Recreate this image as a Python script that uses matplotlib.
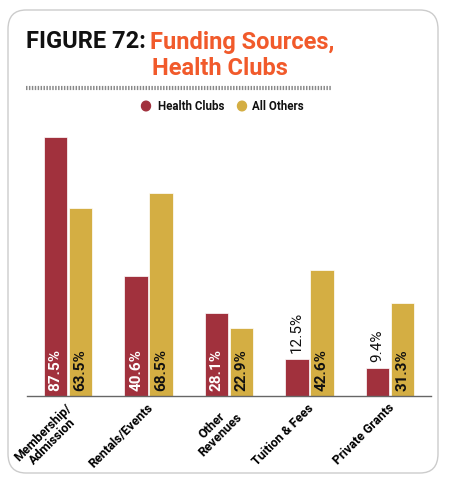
import numpy as np
from matplotlib import pyplot as plt
from matplotlib.patches import FancyBboxPatch, Circle

categories = ['Membership/\nAdmission', 'Rentals/Events', 'Other\nRevenues', 'Tuition & Fees', 'Private Grants']
health_clubs = [87.5, 40.6, 28.1, 12.5, 9.4]
all_others = [63.5, 68.5, 22.9, 42.6, 31.3]

red = '#A1313D'
gold = '#D4AE43'
orange = '#F15A2B'


def main():
    fig = plt.figure(figsize=(4.5, 4.82), dpi=100)

    # rounded frame
    box = FancyBboxPatch((8 / 450, 9 / 482), 430 / 450, 463 / 482,
                         boxstyle='round,pad=0,rounding_size=0.04',
                         transform=fig.transFigure, facecolor='white',
                         edgecolor='#cccccc', linewidth=1.0, zorder=-10)
    fig.patches.append(box)

    fig.text(26 / 450, 1 - 42 / 482, 'FIGURE 72:', fontsize=17, fontweight='bold',
             family='Roboto', color='#111111', va='center', ha='left')
    fig.text(150 / 450, 1 - 42 / 482, 'Funding Sources,', fontsize=17, fontweight='bold',
             family='Roboto', color=orange, va='center', ha='left')
    fig.text(152 / 450, 1 - 69 / 482, 'Health Clubs', fontsize=17, fontweight='bold',
             family='Roboto', color=orange, va='center', ha='left')

    # dotted rule under title
    fig.add_artist(plt.Line2D([26 / 450, 331 / 450], [1 - 88 / 482, 1 - 88 / 482],
                              transform=fig.transFigure, color='#888888',
                              linewidth=3, linestyle=(0, (0.35, 0.35))))

    # legend
    fig.patches.append(Circle((146 / 450, 1 - 106 / 482), 4.5 / 450, transform=fig.transFigure,
                              color=red))
    fig.text(158 / 450, 1 - 106 / 482, 'Health Clubs', fontsize=8.3, fontweight='bold',
             family='Roboto', va='center', ha='left', color='#111111')
    fig.patches.append(Circle((242 / 450, 1 - 106 / 482), 4.5 / 450, transform=fig.transFigure,
                              color=gold))
    fig.text(252 / 450, 1 - 106 / 482, 'All Others', fontsize=8.3, fontweight='bold',
             family='Roboto', va='center', ha='left', color='#111111')

    ax = fig.add_axes([27 / 450, 86 / 482, 404 / 450, 296 / 482])
    ax.patch.set_alpha(0)
    x = np.arange(len(categories))
    w = 0.295
    off = 0.155
    ax.bar(x - off, health_clubs, w, color=red, edgecolor='white', linewidth=0.5)
    ax.bar(x + off, all_others, w, color=gold, edgecolor='white', linewidth=0.5)

    for i, v in enumerate(health_clubs):
        if v > 20:
            ax.text(i - off, 1.8, '%.1f%%' % v, rotation=90, ha='center', va='bottom',
                    color='white', fontsize=11, fontweight='bold', family='Roboto')
        else:
            ax.text(i - off, v + 2, '%.1f%%' % v, rotation=90, ha='center', va='bottom',
                    color='#111111', fontsize=11, family='Roboto')
    for i, v in enumerate(all_others):
        ax.text(i + off, 1.8, '%.1f%%' % v, rotation=90, ha='center', va='bottom',
                color='#111111', fontsize=11, fontweight='bold', family='Roboto')

    ax.set_xlim(-0.51, 4.51)
    ax.set_ylim(0, 100)
    for s in ['top', 'right', 'left']:
        ax.spines[s].set_visible(False)
    ax.spines['bottom'].set_color('#666666')
    ax.spines['bottom'].set_linewidth(1.0)
    ax.set_yticks([])
    ax.set_xticks(x - 0.03)
    ax.set_xticklabels(categories, rotation=45, ha='right', rotation_mode='anchor',
                       fontsize=9, fontweight='bold', family='Roboto', linespacing=1.0,
                       multialignment='center')
    ax.tick_params(axis='x', length=0, pad=4)

    fig.savefig('out.png', dpi=100)
    plt.close()


if __name__ == '__main__':
    main()
